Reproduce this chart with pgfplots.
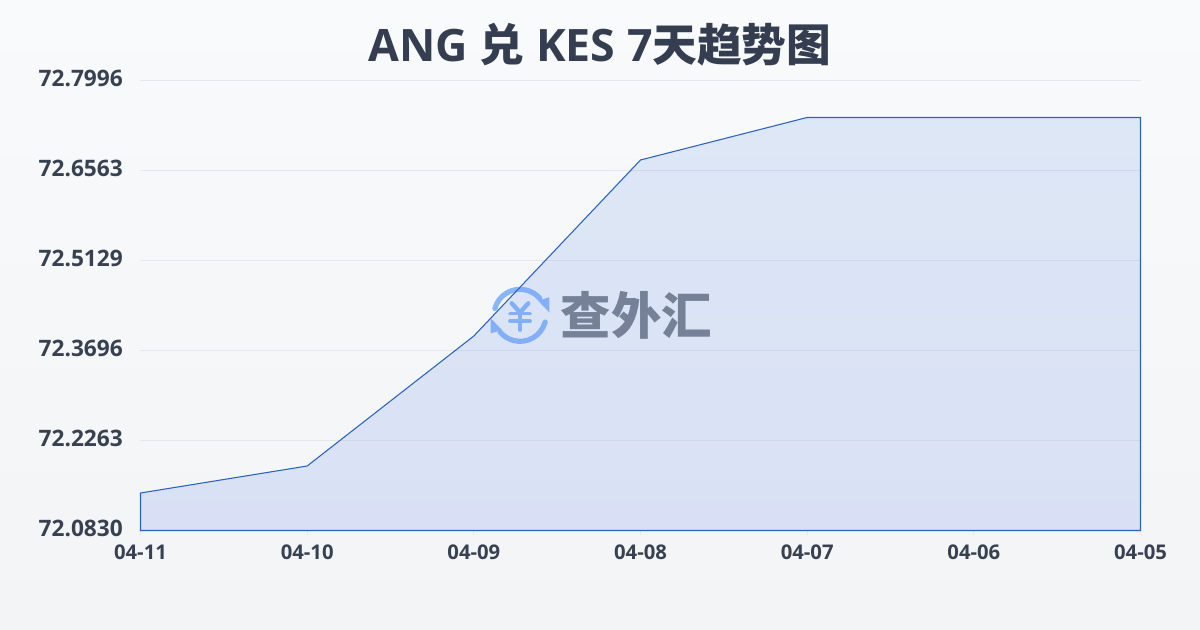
\documentclass[border=0pt]{standalone}
\usepackage{fontspec}
\setmainfont{Open Sans}
\newfontfamily\cjk{Noto Sans CJK SC}
\newcommand{\nsb}{\bfseries}
\usepackage{pgfplots}
\pgfplotsset{compat=1.18}
\definecolor{bgtop}{HTML}{F9FAFB}
\definecolor{bgbot}{HTML}{F3F4F6}
\definecolor{ink}{HTML}{374151}
\definecolor{titleink}{HTML}{343E50}
\definecolor{gridc}{HTML}{E5E7EB}
\definecolor{linec}{HTML}{2A62C4}
\definecolor{areatop}{HTML}{3B7FE0}
\definecolor{areabot}{HTML}{2A5BE7}
\definecolor{logoblue}{HTML}{88B6FA}
\definecolor{logogray}{HTML}{7A7D84}
\begin{document}
\begin{tikzpicture}[x=1pt,y=1pt]
\path[use as bounding box] (0,0) rectangle (900,472.5);
\shade[top color=bgtop,bottom color=bgbot,draw=none] (0,0) rectangle (900,472.5);
\node[anchor=center,font=\fontsize{33.5pt}{40pt}\selectfont\bfseries,text=titleink,inner sep=0pt] at (450,439) {ANG {\cjk 兑} KES 7{\cjk 天趋势图}};
% watermark logo
\begin{scope}[shift={(390,236)},draw=logoblue,line cap=round]
\draw[line width=3.9pt] (165:19.5) arc (165:40:19.5);
\draw[line width=3.9pt] (-15:19.5) arc (-15:-140:19.5);
\fill[logoblue] (13.5,11) -- (22,13.5) -- (22,2.2) -- cycle;
\fill[logoblue] (-13.5,-11) -- (-22,-13.5) -- (-22,-2.2) -- cycle;
\draw[line width=3.3pt] (-6.2,9) -- (0,2.2) -- (6.2,9);
\draw[line width=3.3pt] (0,2.2) -- (0,-10.8);
\draw[line width=2.8pt] (-7.5,1.3) -- (7.5,1.3);
\draw[line width=2.8pt] (-7.5,-4.2) -- (7.5,-4.2);
\end{scope}
\node[anchor=west,font=\cjk\bfseries\fontsize{37.8pt}{42pt}\selectfont,text=logogray,inner sep=0pt] at (420.5,236) {查外汇};
\begin{axis}[
  at={(105.375pt,74.625pt)},anchor=south west,
  scale only axis,width=750pt,height=337.5pt,
  xmin=0,xmax=6,ymin=72.0830,ymax=72.7996,
  clip=false,
  axis line style={draw=none},
  xtick={0,1,2,3,4,5,6},
  xticklabels={04-11,04-10,04-09,04-08,04-07,04-06,04-05},
  ytick={72.0830,72.2263,72.3696,72.5129,72.6563,72.7996},
  /pgf/number format/assume math mode=true,
  /pgf/number format/fixed,/pgf/number format/fixed zerofill,/pgf/number format/precision=4,
  scaled y ticks=false,
  ymajorgrids,
  xtick pos=bottom,
  grid style={gridc,line width=0.75pt},
  tick align=outside,
  major tick length=3.75pt,
  xtick style={gridc,line width=0.75pt},
  ytick style={draw=none},
  xticklabel style={font=\nsb\fontsize{15.2pt}{18pt}\selectfont,text=ink,yshift=-3.8pt},
  yticklabel style={font=\nsb\fontsize{17pt}{18pt}\selectfont,text=ink,yshift=1.5pt,xshift=-6pt},
]
\addplot[draw=linec,line width=0.8pt,top color=areatop!75!white,bottom color=areabot!72!white,fill opacity=0.19,draw opacity=1] coordinates {
(0,72.1427) (1,72.1857) (2,72.3927) (3,72.6730) (4,72.7407) (5,72.7407) (6,72.7407)
} \closedcycle;
\end{axis}
\end{tikzpicture}
\end{document}
